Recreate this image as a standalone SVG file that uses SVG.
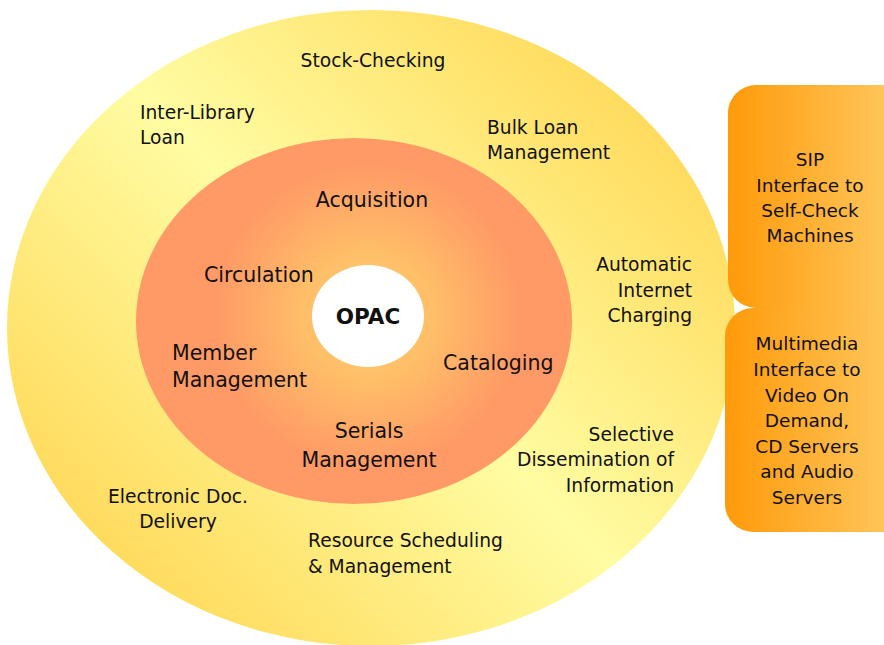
<svg xmlns="http://www.w3.org/2000/svg" width="884" height="645" viewBox="0 0 884 645">
<defs>
<linearGradient id="outerG" gradientUnits="userSpaceOnUse" x1="70" y1="620" x2="670" y2="30">
<stop offset="0" stop-color="#FFD44E"/>
<stop offset="0.5" stop-color="#FFFCA2"/>
<stop offset="1" stop-color="#FFD44E"/>
</linearGradient>
<radialGradient id="innerG" gradientUnits="userSpaceOnUse" cx="368" cy="316" r="215">
<stop offset="0" stop-color="#FFD06C"/>
<stop offset="0.3" stop-color="#FFBE68"/>
<stop offset="0.72" stop-color="#FF9966"/>
<stop offset="1" stop-color="#FF9966"/>
</radialGradient>
<linearGradient id="boxG" x1="0" y1="0" x2="1" y2="0">
<stop offset="0" stop-color="#FF9A0A"/>
<stop offset="1" stop-color="#FFCC66"/>
</linearGradient>
</defs>
<style>
text{font-family:"DejaVu Sans","Liberation Sans",sans-serif;fill:#111;}
.o{font-size:18.7px;}
.i{font-size:20.5px;}
.b{font-size:18.5px;text-anchor:middle;}
.m{text-anchor:middle;}
.r{text-anchor:end;}
</style>
<g id="outer-ring">
<ellipse cx="371" cy="328" rx="364" ry="318" fill="url(#outerG)"/>
<text class="o m" x="373" y="67">Stock-Checking</text>
<text class="o" x="140" y="119">Inter-Library</text>
<text class="o" x="140" y="144">Loan</text>
<text class="o" x="487" y="134">Bulk Loan</text>
<text class="o" x="487" y="159">Management</text>
<text class="o r" x="692" y="271">Automatic</text>
<text class="o r" x="692" y="297">Internet</text>
<text class="o r" x="692" y="322">Charging</text>
<text class="o r" x="674" y="441">Selective</text>
<text class="o r" x="674" y="466">Dissemination of</text>
<text class="o r" x="674" y="492">Information</text>
<text class="o m" x="178" y="503">Electronic Doc.</text>
<text class="o m" x="178" y="528">Delivery</text>
<text class="o" x="308" y="547">Resource Scheduling</text>
<text class="o" x="308" y="573">&amp; Management</text>
</g>
<g id="inner-ring">
<ellipse cx="354" cy="321" rx="218" ry="183" fill="url(#innerG)"/>
<text class="i m" x="372" y="207">Acquisition</text>
<text class="i" x="204" y="282">Circulation</text>
<text class="i" x="172" y="360">Member</text>
<text class="i" x="172" y="387">Management</text>
<text class="i" x="443" y="370">Cataloging</text>
<text class="i m" x="369" y="438">Serials</text>
<text class="i m" x="369" y="467">Management</text>
</g>
<g id="opac">
<ellipse cx="368" cy="316" rx="56" ry="51" fill="#FFFFFF"/>
<text class="m" x="368" y="324" style="font-size:21.5px;font-weight:bold;">OPAC</text>
</g>
<g id="sip-box">
<rect x="728" y="85" width="184" height="223" rx="28" fill="url(#boxG)"/>
<text class="b" x="810" y="166">SIP</text>
<text class="b" x="810" y="192">Interface to</text>
<text class="b" x="810" y="217">Self-Check</text>
<text class="b" x="810" y="242">Machines</text>
</g>
<g id="multimedia-box">
<rect x="725" y="308" width="187" height="224" rx="28" fill="url(#boxG)"/>
<text class="b" x="807" y="350">Multimedia</text>
<text class="b" x="807" y="376">Interface to</text>
<text class="b" x="807" y="402">Video On</text>
<text class="b" x="807" y="427">Demand,</text>
<text class="b" x="807" y="453">CD Servers</text>
<text class="b" x="807" y="478">and Audio</text>
<text class="b" x="807" y="504">Servers</text>
</g>
<g id="connectors"></g>
</svg>
